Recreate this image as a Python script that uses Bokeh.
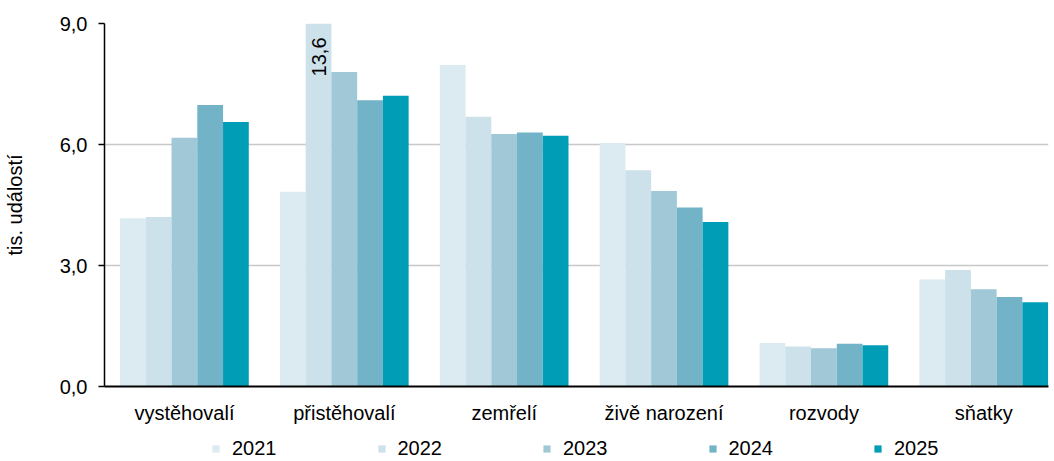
import math
from bokeh.plotting import figure
from bokeh.layouts import column
from bokeh.models import (ColumnDataSource, FixedTicker, Range1d, Legend, LegendItem)
from bokeh.transform import dodge
from bokeh.core.properties import value
from bokeh.embed import file_html
from bokeh.resources import INLINE

categories = ["vystěhovalí", "přistěhovalí", "zemřelí", "živě narození", "rozvody", "sňatky"]
years = ["2021", "2022", "2023", "2024", "2025"]
v2021 = [4.17, 4.83, 7.97, 6.04, 1.08, 2.65]
v2022 = [4.20, 13.6, 6.69, 5.36, 0.99, 2.89]
v2023 = [6.17, 7.80, 6.26, 4.85, 0.95, 2.41]
v2024 = [6.98, 7.10, 6.30, 4.44, 1.06, 2.22]
v2025 = [6.56, 7.21, 6.22, 4.08, 1.02, 2.09]
series = [v2021, v2022, v2023, v2024, v2025]
colors = ["#dceaf1", "#cde1ea", "#a0c8d6", "#72b3c7", "#009db7"]
y_ticks = [0, 3, 6, 9]
y_max = 9.0

FONT = "Liberation Sans"
bar_w = 0.161

p = figure(width=1050, height=430, output_backend="svg", toolbar_location=None,
           x_range=Range1d(-0.5, 5.405), y_range=Range1d(0, y_max),
           min_border_left=102, min_border_right=2, min_border_top=23,
           min_border_bottom=44)
p.outline_line_color = None
p.background_fill_color = "white"
p.border_fill_color = "white"

xs = list(range(len(categories)))
data = {"x": xs}
for yr, vals in zip(years, series):
    data["y" + yr] = vals
src = ColumnDataSource(data)

for j, (yr, col) in enumerate(zip(years, colors)):
    p.vbar(x=dodge("x", (j - 2) * bar_w, range=p.x_range), top="y" + yr,
           width=bar_w, source=src, fill_color=col, line_color=None)

# label for the clipped bar (value beyond the axis maximum)
lab_x, lab_y, lab_t = [], [], []
for j, vals in enumerate(series):
    for i, v in enumerate(vals):
        if v > y_max:
            lab_x.append(i + (j - 2) * bar_w)
            lab_y.append(y_max)
            lab_t.append(f"{v:.1f}".replace(".", ","))
p.text(x=lab_x, y=lab_y, text=lab_t, angle=math.pi / 2, text_align="right",
       text_baseline="middle", y_offset=14, text_font=value(FONT),
       text_font_size="20px", text_color="black")

# axes
p.xaxis.ticker = FixedTicker(ticks=xs)
p.xaxis.major_label_overrides = {i: c for i, c in enumerate(categories)}
p.xaxis.major_tick_line_color = None
p.xaxis.minor_tick_line_color = None
p.xaxis.axis_line_color = "black"
p.xaxis.axis_line_width = 2
p.xaxis.major_label_text_font = FONT
p.xaxis.major_label_text_font_size = "20px"
p.xaxis.major_label_text_color = "black"
p.xaxis.major_label_standoff = 9

p.yaxis.ticker = FixedTicker(ticks=y_ticks)
p.yaxis.major_label_overrides = {t: f"{t:.1f}".replace(".", ",") for t in y_ticks}
p.yaxis.minor_tick_line_color = None
p.yaxis.major_tick_in = 0
p.yaxis.major_tick_out = 6
p.yaxis.major_tick_line_color = "black"
p.yaxis.major_tick_line_width = 1.5
p.yaxis.axis_line_color = "black"
p.yaxis.axis_line_width = 1.5
p.yaxis.major_label_text_font = FONT
p.yaxis.major_label_text_font_size = "20px"
p.yaxis.major_label_text_color = "black"
p.yaxis.major_label_standoff = 11
p.yaxis.axis_label = "tis. událostí"
p.yaxis.axis_label_text_font = FONT
p.yaxis.axis_label_text_font_size = "20px"
p.yaxis.axis_label_text_font_style = "normal"
p.yaxis.axis_label_text_color = "black"
p.yaxis.axis_label_standoff = 31

p.xgrid.grid_line_color = None
p.ygrid.grid_line_color = "#c8c8c8"
p.ygrid.grid_line_width = 1.5

# legend in its own strip below the chart (zero-size swatch glyphs)
lg = figure(width=1050, height=30, output_backend="svg", toolbar_location=None,
            x_range=Range1d(0, 1), y_range=Range1d(0, 1),
            x_axis_location=None, y_axis_location=None,
            min_border_left=0, min_border_right=0, min_border_top=0, min_border_bottom=0)
lg.outline_line_color = None
lg.xgrid.grid_line_color = None
lg.ygrid.grid_line_color = None
items = []
for yr, col in zip(years, colors):
    r = lg.vbar(x=[0.5], top=[0], bottom=[0], width=0, fill_color=col, line_color=None)
    items.append(LegendItem(label=yr, renderers=[r]))
legend = Legend(items=items, orientation="horizontal", location=(107, 0),
                glyph_width=9, glyph_height=9, label_standoff=12, spacing=100,
                padding=0, margin=0, border_line_color=None,
                background_fill_alpha=0,
                label_text_font=FONT, label_text_font_size="20px",
                label_text_color="black")
lg.add_layout(legend, "center")

layout = column(p, lg, spacing=0)
open("out.html", "w").write(file_html(layout, INLINE))
